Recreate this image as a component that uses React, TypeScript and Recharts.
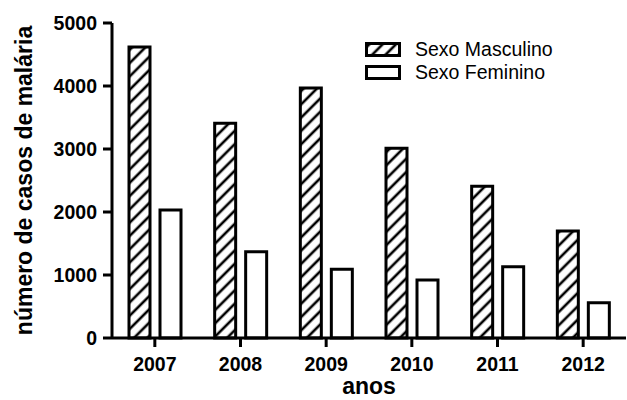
import { BarChart, Bar, XAxis, YAxis, Legend } from 'recharts';

const years = ['2007', '2008', '2009', '2010', '2011', '2012'];
const masculino = [4620, 3410, 3970, 3010, 2410, 1700];
const feminino = [2030, 1370, 1090, 920, 1130, 560];
const yTicks = [0, 1000, 2000, 3000, 4000, 5000];
const seriesNames = ['Sexo Masculino', 'Sexo Feminino'];

const font = '"Liberation Sans", Arial, sans-serif';

const data = years.map((ano, i) => ({ ano, masc: masculino[i], fem: feminino[i] }));

function LegendBox({ payload }: any) {
    // keep the series order, not alphabetical
    const items = [...(payload || [])].sort((a: any, b: any) => seriesNames.indexOf(a.value) - seriesNames.indexOf(b.value));
    return (
        <div style={{ fontFamily: font, fontSize: 19.5, color: '#000', lineHeight: 1 }}>
            {items.map((p: any) => (
                <div key={p.value} style={{ display: 'flex', alignItems: 'center', height: 23 }}>
                    <svg width={36} height={15} style={{ display: 'block' }}>
                        <rect x={1.5} y={1.5} width={33} height={12} fill={p.color} stroke="#000" strokeWidth={3} />
                    </svg>
                    <span style={{ marginLeft: 14, whiteSpace: 'nowrap' }}>{p.value}</span>
                </div>
            ))}
        </div>
    );
}

export default function App() {
    const axisTick = { fill: '#000', fontSize: 19.5, fontWeight: 'bold', fontFamily: font };
    const titleStyle = { fill: '#000', fontSize: 23, fontWeight: 'bold', fontFamily: font, textAnchor: 'middle' as const };

    return (
        <div style={{ width: 627, height: 400, background: '#fff' }}>
            <style>{'body{margin:0}'}</style>
            <BarChart width={627} height={400} data={data} margin={{ top: 23, right: 1, left: 0, bottom: 0 }} barGap={10}>
                <defs>
                    <pattern id="hatch" patternUnits="userSpaceOnUse" width={9.4} height={9.4} patternTransform="rotate(45)">
                        <line x1={4.7} y1={0} x2={4.7} y2={9.4} stroke="#000" strokeWidth={2.6} />
                    </pattern>
                </defs>
                <XAxis
                    dataKey="ano"
                    height={62}
                    axisLine={{ stroke: '#000', strokeWidth: 3 }}
                    tickLine={{ stroke: '#000', strokeWidth: 3 }}
                    tickSize={9}
                    tickMargin={10}
                    tick={axisTick}
                    label={{ value: 'anos', position: 'insideBottom', offset: 6, style: titleStyle }}
                />
                <YAxis
                    width={112}
                    domain={[0, 5000]}
                    ticks={yTicks}
                    axisLine={{ stroke: '#000', strokeWidth: 3 }}
                    tickLine={{ stroke: '#000', strokeWidth: 3 }}
                    tickSize={9}
                    tickMargin={6}
                    tick={axisTick}
                    label={{ value: 'número de casos de malária', angle: -90, position: 'insideLeft', offset: 24, style: titleStyle }}
                />
                <Legend
                    layout="vertical"
                    align="center"
                    verticalAlign="middle"
                    content={<LegendBox />}
                    wrapperStyle={{ top: 38, left: 365, width: 'auto' }}
                />
                <Bar dataKey="masc" name="Sexo Masculino" fill="url(#hatch)" stroke="#000" strokeWidth={3} barSize={21} isAnimationActive={false} />
                <Bar dataKey="fem" name="Sexo Feminino" fill="#fff" stroke="#000" strokeWidth={3} barSize={21} isAnimationActive={false} />
            </BarChart>
        </div>
    );
}
